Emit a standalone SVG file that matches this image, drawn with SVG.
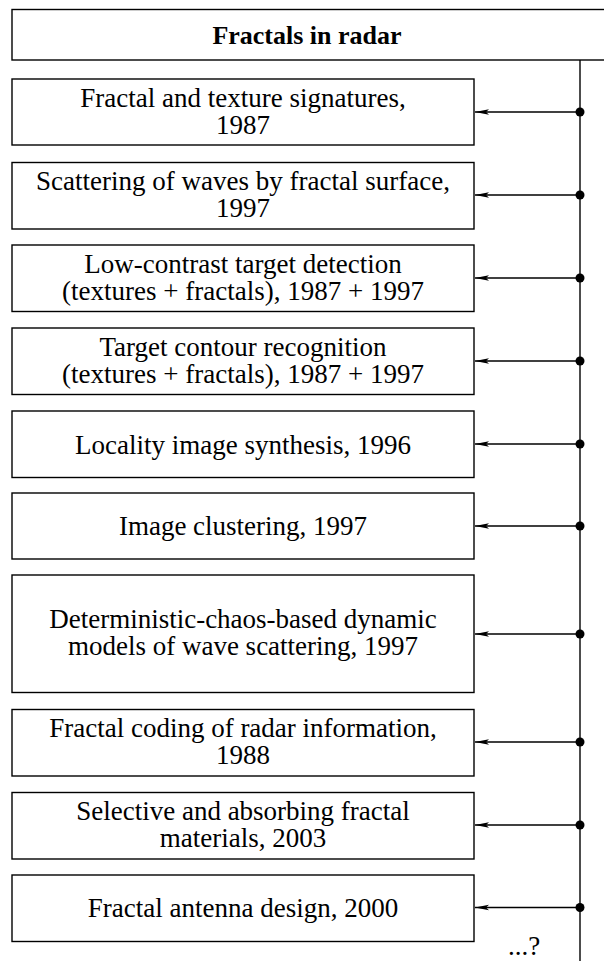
<svg xmlns="http://www.w3.org/2000/svg" width="604" height="961" viewBox="0 0 604 961">
<style>
.box{fill:#fff;stroke:#000;stroke-width:1.4}
text{font-family:'Liberation Serif','Times New Roman','DejaVu Serif',serif;font-size:27px;fill:#000;text-anchor:middle}
.title{font-weight:bold;font-size:26px}
.ln{stroke:#000;stroke-width:1.4;fill:none}
.dot{fill:#000}
</style>
<defs>
<marker id="ah" markerWidth="16" markerHeight="8" refX="14" refY="4" orient="auto" markerUnits="userSpaceOnUse">
<path d="M14,4 L0,1.2 L3,4 L0,6.8 Z" fill="#000"/>
</marker>
</defs>
<rect width="604" height="961" fill="#fff"/>
<g id="title">
<rect class="box" x="12" y="9.5" width="600" height="50.5"/>
<text class="title" x="307" y="44">Fractals in radar</text>
</g>
<g id="n1"><rect class="box" x="12" y="79" width="462" height="66"/>
<text x="243" y="107">Fractal and texture signatures,</text><text x="243" y="134">1987</text></g>
<g id="n2"><rect class="box" x="12" y="162.5" width="462" height="66.5"/>
<text x="243" y="190">Scattering of waves by fractal surface,</text><text x="243" y="217">1997</text></g>
<g id="n3"><rect class="box" x="12" y="245" width="462" height="66.5"/>
<text x="243" y="273">Low-contrast target detection</text><text x="243" y="300">(textures + fractals), 1987 + 1997</text></g>
<g id="n4"><rect class="box" x="12" y="328" width="462" height="66.5"/>
<text x="243" y="356">Target contour recognition</text><text x="243" y="383">(textures + fractals), 1987 + 1997</text></g>
<g id="n5"><rect class="box" x="12" y="411" width="462" height="66.5"/>
<text x="243" y="454">Locality image synthesis, 1996</text></g>
<g id="n6"><rect class="box" x="12" y="493" width="462" height="66"/>
<text x="243" y="535">Image clustering, 1997</text></g>
<g id="n7"><rect class="box" x="12" y="575" width="462" height="117.5"/>
<text x="243" y="628">Deterministic-chaos-based dynamic</text><text x="243" y="655">models of wave scattering, 1997</text></g>
<g id="n8"><rect class="box" x="12" y="709.5" width="462" height="66.5"/>
<text x="243" y="737">Fractal coding of radar information,</text><text x="243" y="764">1988</text></g>
<g id="n9"><rect class="box" x="12" y="792.5" width="462" height="66.5"/>
<text x="243" y="820">Selective and absorbing fractal</text><text x="243" y="847">materials, 2003</text></g>
<g id="n10"><rect class="box" x="12" y="875" width="462" height="66.5"/>
<text x="243" y="917">Fractal antenna design, 2000</text></g>
<g id="connectors">
<line class="ln" x1="580" y1="60" x2="580" y2="961"/>
<line class="ln" x1="580" y1="112" x2="475" y2="112" marker-end="url(#ah)"/>
<line class="ln" x1="580" y1="195" x2="475" y2="195" marker-end="url(#ah)"/>
<line class="ln" x1="580" y1="278" x2="475" y2="278" marker-end="url(#ah)"/>
<line class="ln" x1="580" y1="361" x2="475" y2="361" marker-end="url(#ah)"/>
<line class="ln" x1="580" y1="444" x2="475" y2="444" marker-end="url(#ah)"/>
<line class="ln" x1="580" y1="526" x2="475" y2="526" marker-end="url(#ah)"/>
<line class="ln" x1="580" y1="634" x2="475" y2="634" marker-end="url(#ah)"/>
<line class="ln" x1="580" y1="742" x2="475" y2="742" marker-end="url(#ah)"/>
<line class="ln" x1="580" y1="825" x2="475" y2="825" marker-end="url(#ah)"/>
<line class="ln" x1="580" y1="907.5" x2="475" y2="907.5" marker-end="url(#ah)"/>
<circle class="dot" cx="580" cy="112" r="4.5"/>
<circle class="dot" cx="580" cy="195" r="4.5"/>
<circle class="dot" cx="580" cy="278" r="4.5"/>
<circle class="dot" cx="580" cy="361" r="4.5"/>
<circle class="dot" cx="580" cy="444" r="4.5"/>
<circle class="dot" cx="580" cy="526" r="4.5"/>
<circle class="dot" cx="580" cy="634" r="4.5"/>
<circle class="dot" cx="580" cy="742" r="4.5"/>
<circle class="dot" cx="580" cy="825" r="4.5"/>
<circle class="dot" cx="580" cy="907.5" r="4.5"/>
</g>
<text x="508" y="955" style="text-anchor:start">...?</text>
</svg>
